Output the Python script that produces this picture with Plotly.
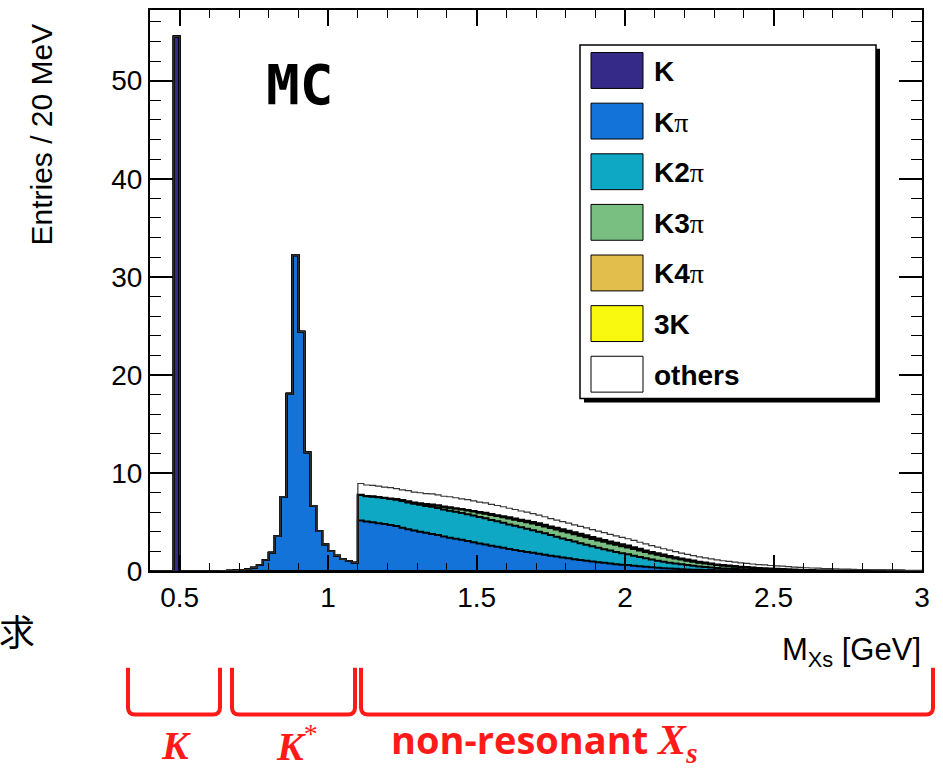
import numpy as np
import plotly.graph_objects as go

# ---------------- data (entries per 20 MeV bin) ----------------
BIN_WIDTH = 0.02
X_MIN, X_MAX = 0.40, 3.00
Y_MAX = 57.2

# K (single bin)
K_START = 0.48
K_VALUES = [54.5]

# K pi resonant part (K*), bins starting at 0.64
KPI_RES_START = 0.64
KPI_RES_VALUES = [0.01, 0.02, 0.04, 0.10, 0.17, 0.34, 0.61, 1.12, 1.86, 3.56,
                  7.55, 18.06, 32.2, 24.4, 12.1, 6.64, 4.07, 2.74, 2.03, 1.56,
                  1.22, 1.02, 0.85]

# non-resonant Xs, bins starting at 1.10 (95 bins)
NR_START = 1.10
KPI_NR = [5.15, 5.05, 4.98, 4.88, 4.80, 4.70, 4.58, 4.42, 4.25, 4.12,
          4.00, 3.90, 3.78, 3.66, 3.52, 3.40, 3.30, 3.18, 3.05, 2.93,
          2.80, 2.70, 2.58, 2.47, 2.36, 2.25, 2.15, 2.05, 1.95, 1.85,
          1.75, 1.66, 1.56, 1.47, 1.38, 1.30, 1.21, 1.13, 1.05, 0.97,
          0.90, 0.83, 0.76, 0.70, 0.65, 0.60, 0.54, 0.48, 0.43, 0.38,
          0.33, 0.29, 0.25, 0.22, 0.19, 0.16, 0.14, 0.12, 0.10, 0.09,
          0.08, 0.07, 0.06, 0.05, 0.045, 0.04, 0.035, 0.03, 0.027, 0.024,
          0.02, 0.018, 0.016, 0.014, 0.012, 0.01, 0.01, 0.009, 0.008, 0.007,
          0.006, 0.005, 0.005, 0.004, 0.004, 0.003, 0.003, 0.003, 0.002, 0.002,
          0.002, 0.002, 0.001, 0.001, 0.001]
K2PI_NR = [2.60, 2.58, 2.62, 2.63, 2.64, 2.65, 2.68, 2.72, 2.74, 2.73,
           2.75, 2.74, 2.76, 2.77, 2.75, 2.75, 2.74, 2.73, 2.74, 2.72,
           2.70, 2.67, 2.63, 2.59, 2.55, 2.50, 2.46, 2.41, 2.36, 2.31,
           2.25, 2.18, 2.10, 2.02, 1.94, 1.87, 1.79, 1.71, 1.63, 1.55,
           1.47, 1.40, 1.32, 1.25, 1.17, 1.10, 1.02, 0.94, 0.86, 0.79,
           0.72, 0.66, 0.60, 0.54, 0.49, 0.44, 0.39, 0.34, 0.30, 0.26,
           0.22, 0.19, 0.17, 0.15, 0.13, 0.11, 0.10, 0.09, 0.08, 0.07,
           0.06, 0.055, 0.05, 0.04, 0.035, 0.03, 0.027, 0.024, 0.02, 0.017,
           0.015, 0.013, 0.012, 0.01, 0.009, 0.008, 0.007, 0.006, 0.005, 0.005,
           0.004, 0.004, 0.003, 0.003, 0.002]
K3PI_NR = [0.02, 0.02, 0.03, 0.03, 0.04, 0.05, 0.07, 0.09, 0.11, 0.13,
           0.15, 0.18, 0.21, 0.24, 0.27, 0.30, 0.33, 0.36, 0.39, 0.42,
           0.45, 0.48, 0.51, 0.54, 0.57, 0.60, 0.62, 0.64, 0.66, 0.68,
           0.70, 0.71, 0.72, 0.73, 0.74, 0.75, 0.75, 0.76, 0.76, 0.75,
           0.75, 0.74, 0.73, 0.72, 0.71, 0.70, 0.68, 0.66, 0.64, 0.62,
           0.60, 0.57, 0.54, 0.51, 0.48, 0.45, 0.42, 0.39, 0.36, 0.33,
           0.30, 0.28, 0.26, 0.24, 0.22, 0.20, 0.18, 0.16, 0.15, 0.13,
           0.12, 0.11, 0.09, 0.08, 0.07, 0.06, 0.05, 0.045, 0.04, 0.035,
           0.03, 0.027, 0.024, 0.02, 0.017, 0.015, 0.013, 0.012, 0.01, 0.009,
           0.008, 0.007, 0.006, 0.005, 0.004]
K4PI_NR = [0, 0, 0, 0, 0, 0, 0, 0, 0.01, 0.01,
           0.01, 0.02, 0.02, 0.03, 0.03, 0.04, 0.04, 0.05, 0.05, 0.06,
           0.06, 0.07, 0.08, 0.08, 0.09, 0.10, 0.10, 0.11, 0.12, 0.12,
           0.13, 0.13, 0.14, 0.14, 0.15, 0.15, 0.15, 0.16, 0.16, 0.16,
           0.16, 0.16, 0.16, 0.16, 0.15, 0.15, 0.15, 0.14, 0.14, 0.13,
           0.13, 0.12, 0.12, 0.11, 0.10, 0.10, 0.09, 0.08, 0.08, 0.07,
           0.06, 0.06, 0.05, 0.05, 0.04, 0.04, 0.03, 0.03, 0.03, 0.02,
           0.02, 0.02, 0.015, 0.013, 0.011, 0.01, 0.009, 0.008, 0.007, 0.006,
           0.005, 0.004, 0.004, 0.003, 0.003, 0.002, 0.002, 0.002, 0.002, 0.001,
           0.001, 0.001, 0.001, 0.001, 0.001]
K3_NR = [0, 0, 0, 0, 0, 0, 0, 0, 0, 0,
         0, 0, 0, 0, 0, 0, 0, 0, 0, 0,
         0.01, 0.01, 0.01, 0.01, 0.02, 0.02, 0.02, 0.02, 0.03, 0.03,
         0.03, 0.03, 0.03, 0.04, 0.04, 0.04, 0.04, 0.04, 0.04, 0.04,
         0.04, 0.04, 0.04, 0.04, 0.04, 0.04, 0.04, 0.04, 0.03, 0.03,
         0.03, 0.03, 0.03, 0.03, 0.02, 0.02, 0.02, 0.02, 0.02, 0.02,
         0.015, 0.014, 0.012, 0.011, 0.01, 0.009, 0.008, 0.007, 0.006, 0.005,
         0.004, 0.004, 0.003, 0.003, 0.002, 0.002, 0.002, 0.001, 0.001, 0.001,
         0, 0, 0, 0, 0, 0, 0, 0, 0, 0,
         0, 0, 0, 0, 0]
OTHERS_NR = [1.15, 1.12, 1.10, 1.12, 1.08, 1.10, 1.06, 1.04, 1.08, 1.05,
             1.07, 1.04, 1.09, 1.06, 1.05, 1.08, 1.06, 1.03, 1.05, 1.02,
             1.00, 1.01, 0.98, 0.99, 0.96, 0.93, 0.92, 0.89, 0.88, 0.85,
             0.83, 0.82, 0.80, 0.79, 0.78, 0.77, 0.77, 0.76, 0.76, 0.75,
             0.75, 0.74, 0.73, 0.72, 0.71, 0.70, 0.69, 0.67, 0.66, 0.64,
             0.62, 0.60, 0.58, 0.56, 0.54, 0.52, 0.51, 0.49, 0.48, 0.46,
             0.45, 0.43, 0.42, 0.40, 0.39, 0.38, 0.36, 0.34, 0.33, 0.31,
             0.30, 0.28, 0.27, 0.25, 0.24, 0.22, 0.21, 0.20, 0.18, 0.17,
             0.16, 0.15, 0.14, 0.13, 0.12, 0.11, 0.10, 0.09, 0.09, 0.08,
             0.07, 0.06, 0.06, 0.05, 0.05]

SERIES_NAMES = ["K", "Kpi", "K2pi", "K3pi", "K4pi", "3K", "others"]
SERIES_COLORS = ["#352a87", "#1473d8", "#0fa8c4", "#7abf82", "#e2bf4c", "#f9f90f", "#ffffff"]
LEGEND_LABELS = ["<b>K</b>",
                 "<b>K</b><span style='font-family:Liberation Serif'>π</span>",
                 "<b>K2</b><span style='font-family:Liberation Serif'>π</span>",
                 "<b>K3</b><span style='font-family:Liberation Serif'>π</span>",
                 "<b>K4</b><span style='font-family:Liberation Serif'>π</span>",
                 "<b>3K</b>",
                 "<b>others</b>"]

# ---------------- build histograms ----------------
edges = np.round(np.arange(X_MIN, X_MAX + 1e-9, BIN_WIDTH), 2)
nb = len(edges) - 1


def place(start, values):
    arr = np.zeros(nb)
    i0 = int(round((start - X_MIN) / BIN_WIDTH))
    arr[i0:i0 + len(values)] = values
    return arr


hists = [
    place(K_START, K_VALUES),
    place(KPI_RES_START, KPI_RES_VALUES) + place(NR_START, KPI_NR),
    place(NR_START, K2PI_NR),
    place(NR_START, K3PI_NR),
    place(NR_START, K4PI_NR),
    place(NR_START, K3_NR),
    place(NR_START, OTHERS_NR),
]

fig = go.Figure()
for i, (name, h, col) in enumerate(zip(SERIES_NAMES, hists, SERIES_COLORS)):
    yv = np.append(h, h[-1])
    lw = 1.2 if name == "others" else 2
    lc = "#333333" if name == "others" else "black"
    fig.add_trace(go.Scatter(
        x=edges, y=yv, name=name, mode="lines", stackgroup="s",
        line=dict(shape="hv", color=lc, width=lw),
        fillcolor=col, showlegend=False, hoverinfo="skip"))

# ---------------- layout ----------------
PL, PR, PT, PB = 150, 922, 8, 571
W, H = 943, 772


def xp(px):
    return (px - PL) / (PR - PL)


def yp(py):
    return (PB - py) / (PB - PT)


FONT = "Liberation Sans, Arial, sans-serif"
fig.update_layout(
    width=W, height=H,
    margin=dict(l=PL, r=W - PR, t=PT, b=H - PB),
    paper_bgcolor="white", plot_bgcolor="white",
    showlegend=False,
    font=dict(family=FONT, color="black"),
)
fig.update_xaxes(
    range=[X_MIN, X_MAX], showgrid=False, zeroline=False,
    showline=True, linecolor="black", linewidth=2, mirror="allticks",
    ticks="inside", ticklen=16, tickwidth=1.5, tickcolor="black",
    tick0=0, dtick=0.5, tickfont=dict(size=28, family=FONT),
    minor=dict(ticks="inside", ticklen=8, tickwidth=1.2, tickcolor="black", dtick=0.1, tick0=0),
)
fig.update_yaxes(
    range=[0, Y_MAX], showgrid=False, zeroline=False,
    showline=True, linecolor="black", linewidth=2, mirror="allticks",
    ticks="inside", ticklen=23, tickwidth=1.5, tickcolor="black",
    tick0=0, dtick=10, tickfont=dict(size=28, family=FONT),
    minor=dict(ticks="inside", ticklen=11, tickwidth=1.2, tickcolor="black", dtick=2, tick0=0),
)

shapes = []
annots = []

# legend box with shadow
shapes.append(dict(type="rect", xref="paper", yref="paper",
                   x0=xp(584), x1=xp(880), y0=yp(402), y1=yp(47),
                   fillcolor="black", line=dict(width=0), layer="above"))
shapes.append(dict(type="rect", xref="paper", yref="paper",
                   x0=xp(580), x1=xp(876), y0=yp(398), y1=yp(43),
                   fillcolor="white", line=dict(color="black", width=1.5), layer="above"))
for i, (lab, col) in enumerate(zip(LEGEND_LABELS, SERIES_COLORS)):
    cy = 68.7 + 50.8 * i
    shapes.append(dict(type="rect", xref="paper", yref="paper",
                       x0=xp(591), x1=xp(643), y0=yp(cy + 18), y1=yp(cy - 18),
                       fillcolor=col, line=dict(color="black", width=1), layer="above"))
    annots.append(dict(text=lab, xref="paper", yref="paper", x=xp(652), y=yp(cy + 1),
                       xanchor="left", yanchor="middle", showarrow=False,
                       font=dict(size=28, family=FONT, color="black")))

# MC label
annots.append(dict(text="<b>MC</b>", xref="paper", yref="paper", x=xp(299), y=yp(83),
                   xanchor="center", yanchor="middle", showarrow=False,
                   font=dict(size=56, family="DejaVu Sans Mono", color="black")))

# axis titles
annots.append(dict(text="Entries / 20 MeV", xref="paper", yref="paper", x=xp(42), y=yp(133),
                   xanchor="center", yanchor="middle", textangle=-90, showarrow=False,
                   font=dict(size=30, family=FONT, color="black")))
annots.append(dict(text="M<sub>Xs</sub> [GeV]", xref="paper", yref="paper", x=xp(923), y=yp(652),
                   xanchor="right", yanchor="middle", showarrow=False,
                   font=dict(size=31, family=FONT, color="black")))
annots.append(dict(text="求", xref="paper", yref="paper", x=xp(17), y=yp(630),
                   xanchor="center", yanchor="middle", showarrow=False,
                   font=dict(size=36, family="Noto Sans CJK JP", color="black")))

# red brackets
RED = "#ff1a1a"


def bracket(x0, x1, ytop=668, ybot=715, r=7):
    p = (f"M {xp(x0)},{yp(ytop)} L {xp(x0)},{yp(ybot - r)} "
         f"Q {xp(x0)},{yp(ybot)} {xp(x0 + r)},{yp(ybot)} "
         f"L {xp(x1 - r)},{yp(ybot)} Q {xp(x1)},{yp(ybot)} {xp(x1)},{yp(ybot - r)} "
         f"L {xp(x1)},{yp(ytop)}")
    return dict(type="path", xref="paper", yref="paper", path=p,
                line=dict(color=RED, width=4), layer="above")


shapes.append(bracket(128, 220))
shapes.append(bracket(232, 355))
shapes.append(bracket(361, 933))

SERIF = "Liberation Serif"
annots.append(dict(text="<b><i>K</i></b>",
                   xref="paper", yref="paper", x=xp(176), y=yp(746),
                   xanchor="center", yanchor="middle", showarrow=False,
                   font=dict(size=40, family=SERIF, color=RED)))
annots.append(dict(text="<b><i>K</i></b><sup>*</sup>",
                   xref="paper", yref="paper", x=xp(297), y=yp(744),
                   xanchor="center", yanchor="middle", showarrow=False,
                   font=dict(size=40, family=SERIF, color=RED)))
annots.append(dict(text=f"<b>non-resonant </b><b><i><span style='font-family:{SERIF};font-size:42px'>X<sub>s</sub></span></i></b>",
                   xref="paper", yref="paper", x=xp(389), y=yp(742),
                   xanchor="left", yanchor="middle", showarrow=False,
                   font=dict(size=38, family="Open Sans", color=RED)))

fig.update_layout(shapes=shapes, annotations=annots)
fig.write_html("out.html")
